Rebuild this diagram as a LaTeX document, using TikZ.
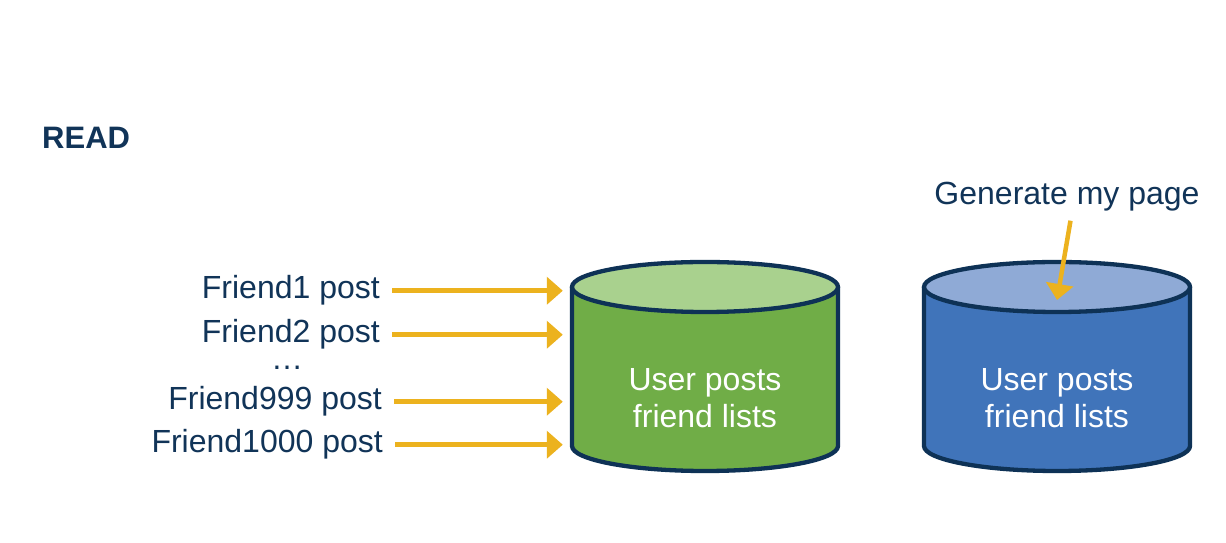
\documentclass[tikz,border=0pt]{standalone}
\usepackage{fontspec}
\setmainfont{Liberation Sans}
\usetikzlibrary{arrows.meta}
\definecolor{navy}{RGB}{17,52,88}
\definecolor{edge}{RGB}{14,50,86}
\definecolor{arrowyellow}{RGB}{236,178,30}
\definecolor{greenbody}{RGB}{112,173,71}
\definecolor{greentop}{RGB}{169,209,142}
\definecolor{bluebody}{RGB}{64,116,186}
\definecolor{bluetop}{RGB}{143,170,214}
\tikzset{
  lbl/.style={text=navy, inner sep=0pt, font=\fontsize{32}{37}\selectfont},
  celltext/.style={text=white, align=center, inner sep=0pt, font=\fontsize{32}{37}\selectfont},
  arr/.style={draw=arrowyellow, line width=4.5pt, -{Triangle[width=27pt,length=16pt]}},
  cylbox/.style={minimum width=266pt, minimum height=159pt, inner sep=0pt}
}
\newcommand{\mycyl}[3]{%
  \fill[#2] (#1-133,256) -- (#1-133,97) arc[start angle=180,end angle=360,x radius=133,y radius=25] -- (#1+133,256) arc[start angle=0,end angle=180,x radius=133,y radius=25] -- cycle;
  \draw[edge, line width=4.3pt, line join=round] (#1-133,256) -- (#1-133,97) arc[start angle=180,end angle=360,x radius=133,y radius=25] -- (#1+133,256);
  \draw[edge, line width=4.3pt, fill=#3] (#1,256) ellipse[x radius=133,y radius=25];
}
\begin{document}
\begin{tikzpicture}[x=1pt,y=1pt]
\useasboundingbox[fill=white] (0,0) rectangle (1226,543);
% READ title
\node[lbl, anchor=base west, font=\fontsize{31}{36}\selectfont\bfseries] (read) at (42,394) {READ};
% cylinders
\mycyl{705}{greenbody}{greentop}
\mycyl{1057}{bluebody}{bluetop}
\node[cylbox] (green) at (705,176.5) {};
\node[cylbox] (blue) at (1057,176.5) {};
\node[celltext] (gtext) at (705,145) {User posts\\friend lists};
\node[celltext] (btext) at (1057,145) {User posts\\friend lists};
% friend labels
\node[lbl, anchor=base east] (f1) at (380,244) {Friend1 post};
\node[lbl, anchor=base east] (f2) at (380,200) {Friend2 post};
\node[lbl, anchor=base, text height=4pt, text depth=0pt] (dots) at (287,173) {…};
\node[lbl, anchor=base east] (f3) at (382,133) {Friend999 post};
\node[lbl, anchor=base east] (f4) at (383,90) {Friend1000 post};
\foreach \n in {f1,f2,f3,f4}{
  \draw[arr, shorten <=12pt, shorten >=9pt] (\n.east) -- (\n.east -| green.west);
}
% generate
\node[lbl, anchor=base] (gen) at (1067,338) {Generate my page};
\coordinate (gtarget) at (1057,243);
\draw[arr, shorten <=9pt] ([xshift=5pt]gen.south) -- (gtarget);
\end{tikzpicture}
\end{document}
